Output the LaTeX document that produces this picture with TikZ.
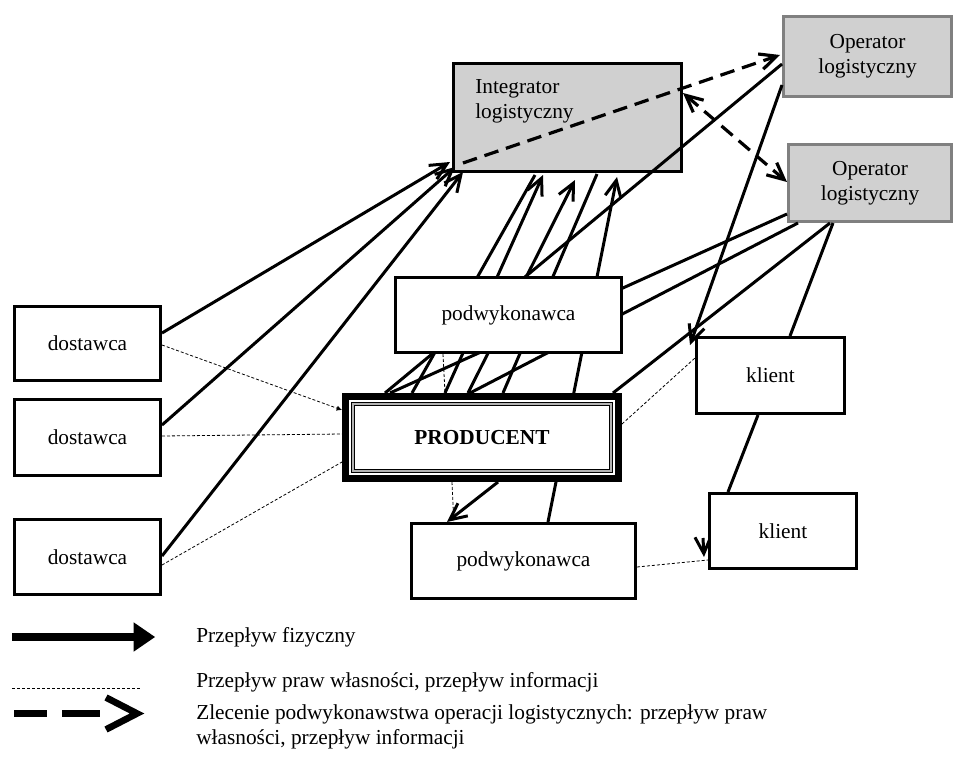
\documentclass[tikz,border=0pt]{standalone}
\usepackage{fontspec}
\setmainfont{Liberation Serif}
\usetikzlibrary{arrows.meta,calc}
\newlength{\pxu}\setlength{\pxu}{0.75pt}
\definecolor{graybox}{RGB}{208,208,208}
\definecolor{grayline}{RGB}{128,128,128}
\pgfdeclarelayer{graylayer}
\pgfdeclarelayer{linelayer}
\pgfsetlayers{graylayer,linelayer,main}
\begin{document}
\begin{tikzpicture}[x=0.75pt,y=-0.75pt,
  every node/.style={font=\fontsize{16}{19}\selectfont},
  wbox/.style={draw=black, line width=2.25pt, fill=white, inner sep=0pt, align=center},
  gbox/.style={line width=2.25pt, fill=graybox, inner sep=0pt, align=center},
  flow/.style={line width=2.25pt},
  barb/.tip={Straight Barb[length=12.5pt,width=12pt]},
  flowarr/.style={flow, -barb},
  info/.style={line width=0.6pt, dash pattern=on 2.25pt off 1.5pt},
  order/.style={line width=2.4pt, dash pattern=on 11pt off 6pt},
  legtext/.style={inner sep=0pt, align=left}
]
\useasboundingbox (0,0) rectangle (954,760);

% ---------- gray boxes ----------
\begin{pgfonlayer}{graylayer}
\node[gbox, draw=black, minimum width=228\pxu, minimum height=108\pxu,
  label={[anchor=north west, align=left, inner sep=0pt, xshift=23\pxu, yshift=-17\pxu]north west:Integrator\\logistyczny}] (integ) at (567.5,117.5) {};
\node[gbox, draw=grayline, minimum width=168\pxu, minimum height=80\pxu] (op1) at (867.5,56.5) {Operator\\logistyczny};
\node[gbox, draw=grayline, minimum width=163\pxu, minimum height=77\pxu] (op2) at (870,183) {Operator\\logistyczny};
\end{pgfonlayer}

% ---------- white boxes ----------
\node[wbox, minimum width=226\pxu, minimum height=75\pxu] (podw1) at (508.5,315) {podwykonawca};
\node[wbox, line width=5.25pt, minimum width=273\pxu, minimum height=82\pxu,
  font=\fontsize{16}{19}\selectfont\bfseries] (prod) at (482,437.5) {PRODUCENT};
\draw[line width=0.75pt, double=grayline!60, double distance=1.5pt]
  ($(prod.north west)+(11,10.5)$) rectangle ($(prod.south east)+(-11,-11)$);
\node[wbox, minimum width=224\pxu, minimum height=75\pxu] (podw2) at (523.5,561) {podwykonawca};
\node[wbox, minimum width=148\pxu, minimum height=76\pxu] (kl1) at (770.5,375.5) {klient};
\node[wbox, minimum width=147\pxu, minimum height=75\pxu] (kl2) at (783,531) {klient};
\node[wbox, minimum width=146\pxu, minimum height=74\pxu] (d1) at (87.5,343.5) {dostawca};
\node[wbox, minimum width=146\pxu, minimum height=76\pxu] (d2) at (87.5,437.5) {dostawca};
\node[wbox, minimum width=146\pxu, minimum height=75\pxu] (d3) at (87.5,557) {dostawca};

% ---------- connectors ----------
\begin{pgfonlayer}{linelayer}
% suppliers -> integrator
\draw[flowarr] ($(d1.east)+(0,-10.5)$) -- ($(integ.south west)+(-2,-11)$);
\draw[flowarr] ($(d2.east)+(0,-12.5)$) -- ($(integ.south west)+(3,-6)$);
\draw[flowarr] ($(d3.east)+(0,-1)$) -- ($(integ.south west)+(11,-1)$);
% producer -> integrator
\draw[flow] ($(prod.north west)+(70,0)$) -- ($(integ.south west)+(83,2)$);
\draw[flowarr] ($(prod.north west)+(103,0)$) -- ($(integ.south west)+(91,2)$);
\draw[flowarr] ($(prod.north west)+(126,0)$) -- ($(integ.south west)+(123,7)$);
\draw[flow] ($(prod.north west)+(161,0)$) -- ($(integ.south west)+(145,1)$);
\draw[flowarr] ($(podw2.north west)+(138,0)$) -- ($(integ.south west)+(165,4)$);
% producer / operators / clients
\draw[flow] ($(prod.north west)+(43,0)$) -- ($(op1.west)+(0,7.5)$);
\draw[flow] ($(op2.south west)+(0,-9)$) -- ($(prod.north west)+(48,0)$);
\draw[flow] ($(op2.south west)+(11,0)$) -- ($(prod.north west)+(128,0)$);
\draw[flow] ($(op2.south west)+(43,0)$) -- ($(prod.north east)+(-9,0)$);
\draw[flowarr] ($(op1.south west)+(0,-13)$) -- ($(kl1.north west)+(-5,9)$);
\draw[flow] ($(op2.south west)+(46,0)$) -- ($(kl1.north west)+(95,0)$);
\draw[flow] ($(kl1.south west)+(63,0)$) -- ($(kl2.north west)+(20,0)$);
\draw[flowarr] ($(prod.south west)+(156,0)$) -- ($(podw2.north west)+(37,0)$);
\draw[flowarr] ($(kl2.south west)+(-5,-32)$) -- ($(kl2.south west)+(-4,-13)$);
% information / ownership
\draw[info, -{Latex[length=4pt,width=4pt]}] ($(d1.east)+(0,1.5)$) -- ($(prod.north west)+(0,17)$);
\draw[info] ($(d2.east)+(0,-1.5)$) -- ($(prod.west)+(0,-3.5)$);
\draw[info] ($(d3.east)+(0,8)$) -- ($(prod.south west)+(0,-20)$);
\draw[info] ($(podw1.south west)+(49,0)$) -- ($(prod.north west)+(103,0)$);
\draw[info] ($(prod.south west)+(110,0)$) -- ($(podw2.north west)+(44,5)$);
\draw[info] ($(prod.east)+(0,-13.5)$) -- ($(kl1.west)+(0,-17.5)$);
\draw[info] ($(podw2.east)+(0,6)$) -- ($(kl2.south west)+(0,-10)$);
% subcontracting orders
\draw[order, -barb] ($(integ.south west)+(11,-10)$) -- ($(op1.west)+(-2,-1.5)$);
\draw[order, barb-barb] ($(integ.east)+(0,-24.5)$) -- ($(op2.west)+(0,-1)$);
\end{pgfonlayer}

% ---------- legend ----------
\node[legtext, anchor=west] (leg1) at (196,637) {Przepływ fizyczny};
\node[legtext, anchor=west] (leg2) at (196,682) {Przepływ praw własności, przepływ informacji};
\node[legtext, anchor=north west] (leg3) at (196,704.5) {Zlecenie podwykonawstwa operacji logistycznych: przepływ praw\\własności, przepływ informacji};
\draw[line width=6pt, -{Triangle[length=16pt,width=22pt,line width=0pt]}]
  ($(leg1.west)+(-184,0)$) -- ($(leg1.west)+(-41,0)$);
\draw[info] ($(leg2.west)+(-184,6)$) -- ($(leg2.west)+(-56,6)$);
\draw[line width=5.5pt] ($(leg3.north west)+(-182,9)$) -- ++(33,0);
\draw[line width=5.5pt] ($(leg3.north west)+(-134,9)$) -- ++(38,0);
\draw[line width=5pt, line join=miter] ($(leg3.north west)+(-90,-7)$) -- ($(leg3.north west)+(-59,9)$) -- ($(leg3.north west)+(-90,25)$);
\end{tikzpicture}
\end{document}
